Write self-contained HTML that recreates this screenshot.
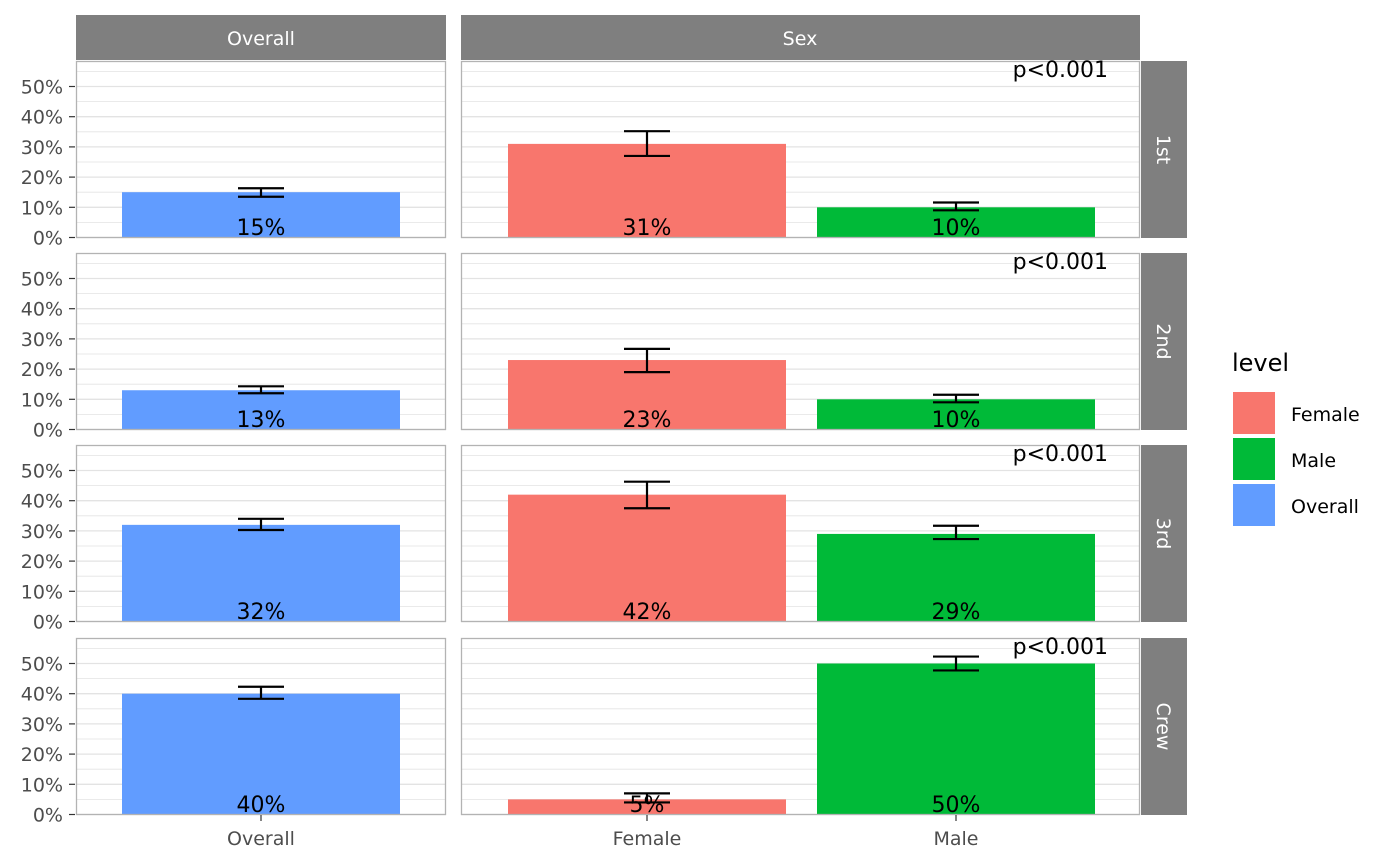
<!DOCTYPE html>
<html><head><meta charset="utf-8"><style>
body{margin:0;background:#fff}
svg{display:block;font-family:"DejaVu Sans","Liberation Sans",sans-serif}
</style></head><body>
<svg id="chart" width="1400" height="866" viewBox="0 0 1400 866"></svg>
<script>
const rowLabels=["1st","2nd","3rd","Crew"];
const overallVals=[15,13,32,40];
const overallLo=[13.5,12,30.3,38.3];
const overallHi=[16.3,14.3,34,42.3];
const femaleVals=[31,23,42,5];
const femaleLo=[27,19,37.5,4];
const femaleHi=[35.2,26.7,46.3,7];
const maleVals=[10,10,29,50];
const maleLo=[9,9,27.3,47.7];
const maleHi=[11.6,11.5,31.7,52.3];
const yTicks=[0,10,20,30,40,50];
const pLabels=["p<0.001","p<0.001","p<0.001","p<0.001"];
const colors={Female:"#F8766D",Male:"#00BA38",Overall:"#619CFF"};
const svg=document.getElementById('chart');
const NS="http://www.w3.org/2000/svg";
function mk(t,a,txt){const e=document.createElementNS(NS,t);for(const k in a)e.setAttribute(k,a[k]);if(txt!==undefined)e.textContent=txt;svg.appendChild(e);return e;}
const rowTops=[61,253,445,638],rowH=177;
const pxPer=3.02;
function y(row,v){return rowTops[row]+176.5-v*pxPer;}
const leftX=[76,446],rightX=[461,1140];
// strips
let s=mk('rect',{x:76,y:15,width:370,height:45,fill:'#7f7f7f'});
s=mk('text',{x:261,y:45,'text-anchor':'middle','font-size':19,fill:'#fff'},'Overall');
s=mk('rect',{x:461,y:15,width:679,height:45,fill:'#7f7f7f'});
s=mk('text',{x:800,y:45,'text-anchor':'middle','font-size':19,fill:'#fff'},'Sex');
function errbar(r,cx,lo,hi,name){
  const g=[[cx,y(r,lo),cx,y(r,hi)],[cx-23,y(r,lo),cx+23,y(r,lo)],[cx-23,y(r,hi),cx+23,y(r,hi)]];
  g.forEach(l=>{const e=mk('line',{x1:l[0],y1:l[1],x2:l[2],y2:l[3],stroke:'#000','stroke-width':2.2});});
}
function bar(r,x0,x1,v,lo,hi,col,nm){
  const b=mk('rect',{x:x0,y:y(r,v),width:x1-x0,height:v*pxPer,fill:col});
  
  errbar(r,(x0+x1)/2,lo,hi,'error-bar-'+nm);
  const t=mk('text',{x:(x0+x1)/2,y:rowTops[r]+174,'text-anchor':'middle','font-size':22,fill:'#000'},Math.round(v)+'%');
  
}
for(let r=0;r<4;r++){
  [leftX,rightX].forEach((px,pi)=>{
    for(let v=0;v<=55;v+=5){
      const ln=mk('line',{x1:px[0],x2:px[1],y1:y(r,v),y2:y(r,v),stroke:'#e3e3e3','stroke-width':v%10==0?1.3:0.8});
      
    }
  });
  bar(r,122,400,overallVals[r],overallLo[r],overallHi[r],colors.Overall,'overall');
  bar(r,508,786,femaleVals[r],femaleLo[r],femaleHi[r],colors.Female,'female');
  bar(r,817,1095,maleVals[r],maleLo[r],maleHi[r],colors.Male,'male');
  [leftX,rightX].forEach(px=>{
    const b=mk('rect',{x:px[0]+0.5,y:rowTops[r]+0.5,width:px[1]-px[0]-1,height:rowH-1,fill:'none',stroke:'#b3b3b3','stroke-width':1.3});
    
  });
  yTicks.forEach(v=>{
    const t=mk('text',{x:63,y:y(r,v)+7,'text-anchor':'end','font-size':19,fill:'#4d4d4d'},v+'%');
    
    const tk=mk('line',{x1:69,x2:75,y1:y(r,v),y2:y(r,v),stroke:'#333','stroke-width':1.2});
    
  });
  const p=mk('text',{x:1108,y:rowTops[r]+16,'text-anchor':'end','font-size':22,fill:'#000'},pLabels[r]);
  
  const st=mk('rect',{x:1141,y:rowTops[r],width:46,height:rowH,fill:'#7f7f7f'});
  
  const cy=rowTops[r]+rowH/2;
  const sl=mk('text',{x:1157,y:cy,'text-anchor':'middle','font-size':19,fill:'#fff',transform:'rotate(90 1157 '+cy+')'},rowLabels[r]);
  
}
[[261,'Overall'],[647,'Female'],[956,'Male']].forEach(a=>{
  const tk=mk('line',{x1:a[0],x2:a[0],y1:815,y2:821,stroke:'#333','stroke-width':1.2});
  const t=mk('text',{x:a[0],y:845,'text-anchor':'middle','font-size':19,fill:'#4d4d4d'},a[1]);
});
let lt=mk('text',{x:1232,y:371,'font-size':24,fill:'#000'},'level');
[['Female',392],['Male',438],['Overall',484]].forEach(a=>{
  const r=mk('rect',{x:1233,y:a[1],width:42,height:42,fill:colors[a[0]]});
  const t=mk('text',{x:1291,y:a[1]+29,'font-size':19,fill:'#000'},a[0]);
});
</script>
</body></html>
